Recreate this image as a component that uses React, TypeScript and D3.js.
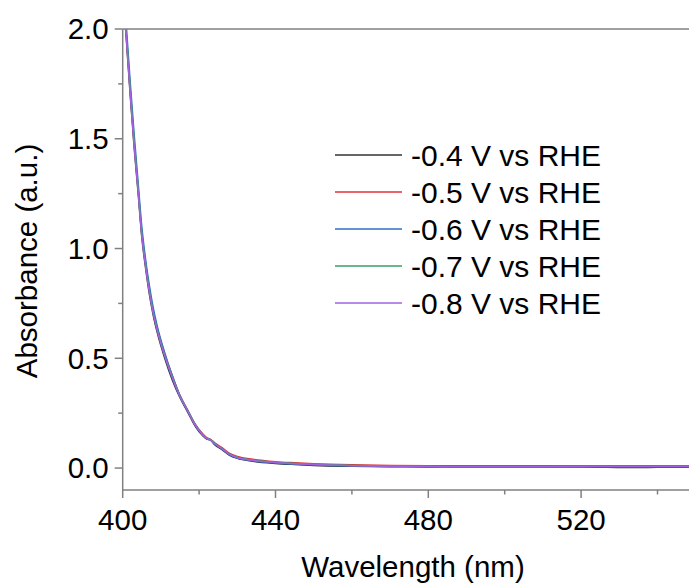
import React, { useEffect, useRef } from 'react';
import * as d3 from 'd3';

// Wavelength grid (nm), shared by all spectra
const wavelengths = [400, 401, 402, 403, 404, 405, 406, 407, 408, 409, 411, 413, 415, 417, 419, 421, 422, 423, 424, 426, 428, 430, 434, 440, 445, 450, 460, 470, 480, 490, 500, 510, 520, 530, 535, 540, 550];

// Absorbance for each potential
const absM04 = [2.19, 1.94, 1.69, 1.46, 1.26, 1.05, 0.91, 0.79, 0.695, 0.62, 0.50, 0.40, 0.32, 0.255, 0.19, 0.146, 0.132, 0.127, 0.108, 0.084, 0.058, 0.044, 0.031, 0.021, 0.016, 0.012, 0.008, 0.006, 0.005, 0.004, 0.004, 0.004, 0.005, 0.003, 0.002, 0.004, 0.004];
const absM05 = [2.21, 1.96, 1.71, 1.48, 1.28, 1.07, 0.93, 0.81, 0.715, 0.64, 0.52, 0.42, 0.33, 0.265, 0.20, 0.155, 0.139, 0.131, 0.116, 0.093, 0.067, 0.053, 0.040, 0.029, 0.024, 0.020, 0.015, 0.012, 0.011, 0.010, 0.010, 0.010, 0.011, 0.011, 0.010, 0.010, 0.010];
const absM06 = [2.24, 2.0, 1.75, 1.52, 1.31, 1.10, 0.95, 0.83, 0.73, 0.65, 0.525, 0.42, 0.33, 0.262, 0.197, 0.151, 0.134, 0.127, 0.111, 0.086, 0.060, 0.046, 0.033, 0.023, 0.018, 0.014, 0.009, 0.007, 0.006, 0.005, 0.005, 0.005, 0.006, 0.006, 0.006, 0.006, 0.006];
const absM07 = [2.22, 1.97, 1.72, 1.49, 1.28, 1.07, 0.93, 0.81, 0.71, 0.635, 0.515, 0.415, 0.328, 0.262, 0.197, 0.152, 0.136, 0.129, 0.113, 0.089, 0.063, 0.049, 0.036, 0.026, 0.021, 0.017, 0.012, 0.009, 0.008, 0.007, 0.007, 0.007, 0.008, 0.008, 0.008, 0.008, 0.008];
const absM08 = [2.20, 1.95, 1.70, 1.47, 1.27, 1.06, 0.92, 0.80, 0.705, 0.63, 0.51, 0.41, 0.325, 0.26, 0.195, 0.15, 0.135, 0.128, 0.112, 0.088, 0.062, 0.048, 0.035, 0.025, 0.020, 0.016, 0.011, 0.008, 0.007, 0.006, 0.006, 0.006, 0.007, 0.007, 0.007, 0.007, 0.007];

const seriesLabels = ['-0.4 V vs RHE', '-0.5 V vs RHE', '-0.6 V vs RHE', '-0.7 V vs RHE', '-0.8 V vs RHE'];
const seriesValues = [absM04, absM05, absM06, absM07, absM08];
const seriesColors = ['#333333', '#e2333d', '#2f6fc2', '#36a066', '#a062e0'];

const xMajor = [400, 440, 480, 520];
const xMinor = [420, 460, 500, 540];
const yMajor = [0, 0.5, 1.0, 1.5, 2.0];
const yMinor = [0.25, 0.75, 1.25, 1.75];

const WIDTH = 689;
const HEIGHT = 586;
const LEFT = 122.7;
const TOP = 29;
const BOTTOM = 490;
const RIGHT = 695.7;
const FONT = 'Arial, "Liberation Sans", sans-serif';
const AXIS_COLOR = '#808080';

export default function App() {
  const ref = useRef<SVGSVGElement>(null);

  useEffect(() => {
    const svg = d3.select(ref.current);
    svg.selectAll('*').remove();

    const x = d3.scaleLinear().domain([400, 550]).range([LEFT, RIGHT]);
    const y = d3.scaleLinear().domain([-0.1, 2.0]).range([BOTTOM, TOP]);

    svg.append('defs').append('clipPath').attr('id', 'plotClip')
      .append('rect')
      .attr('x', LEFT).attr('y', TOP)
      .attr('width', RIGHT - LEFT).attr('height', BOTTOM - TOP);

    // spectra
    const line = d3.line<number>()
      .x((_, i) => x(wavelengths[i]))
      .y((d) => y(d))
      .curve(d3.curveMonotoneX);

    const g = svg.append('g').attr('clip-path', 'url(#plotClip)');
    seriesValues.forEach((vals, i) => {
      g.append('path')
        .attr('d', line(vals))
        .attr('fill', 'none')
        .attr('stroke', seriesColors[i])
        .attr('stroke-width', 1.5);
    });

    // frame: left, bottom, top lines
    const axis = svg.append('g').attr('stroke', AXIS_COLOR).attr('stroke-width', 1.5);
    axis.append('line').attr('x1', LEFT).attr('x2', LEFT).attr('y1', TOP).attr('y2', BOTTOM);
    axis.append('line').attr('x1', LEFT).attr('x2', RIGHT).attr('y1', BOTTOM).attr('y2', BOTTOM);
    axis.append('line').attr('x1', LEFT).attr('x2', RIGHT).attr('y1', TOP).attr('y2', TOP);

    // ticks
    xMajor.forEach((v) => axis.append('line').attr('x1', x(v)).attr('x2', x(v)).attr('y1', BOTTOM).attr('y2', BOTTOM + 8));
    xMinor.forEach((v) => axis.append('line').attr('x1', x(v)).attr('x2', x(v)).attr('y1', BOTTOM).attr('y2', BOTTOM + 4.5));
    yMajor.forEach((v) => axis.append('line').attr('x1', LEFT - 8).attr('x2', LEFT).attr('y1', y(v)).attr('y2', y(v)));
    yMinor.forEach((v) => axis.append('line').attr('x1', LEFT - 4.5).attr('x2', LEFT).attr('y1', y(v)).attr('y2', y(v)));

    const text = svg.append('g').attr('font-family', FONT).attr('font-size', 29.5).attr('fill', '#000');

    xMajor.forEach((v) => text.append('text')
      .attr('x', x(v)).attr('y', 530)
      .attr('text-anchor', 'middle')
      .text(d3.format('d')(v)));

    yMajor.forEach((v) => text.append('text')
      .attr('x', LEFT - 14).attr('y', y(v))
      .attr('dy', '0.35em')
      .attr('text-anchor', 'end')
      .text(d3.format('.1f')(v)));

    text.append('text')
      .attr('x', 413).attr('y', 577)
      .attr('text-anchor', 'middle')
      .text('Wavelength (nm)');

    text.append('text')
      .attr('transform', 'translate(37, 261) rotate(-90)')
      .attr('text-anchor', 'middle')
      .text('Absorbance (a.u.)');

    // legend
    seriesLabels.forEach((label, i) => {
      const ly = 155 + i * 37;
      svg.append('line')
        .attr('x1', 335).attr('x2', 402)
        .attr('y1', ly).attr('y2', ly)
        .attr('stroke', seriesColors[i]).attr('stroke-width', 1.5);
      text.append('text')
        .attr('x', 411).attr('y', ly)
        .attr('dy', '0.35em')
        .attr('font-size', 30)
        .text(label);
    });
  }, []);

  return (
    <svg ref={ref} width={WIDTH} height={HEIGHT}
      style={{ position: 'absolute', left: 0, top: 0, background: '#fff' }} />
  );
}
